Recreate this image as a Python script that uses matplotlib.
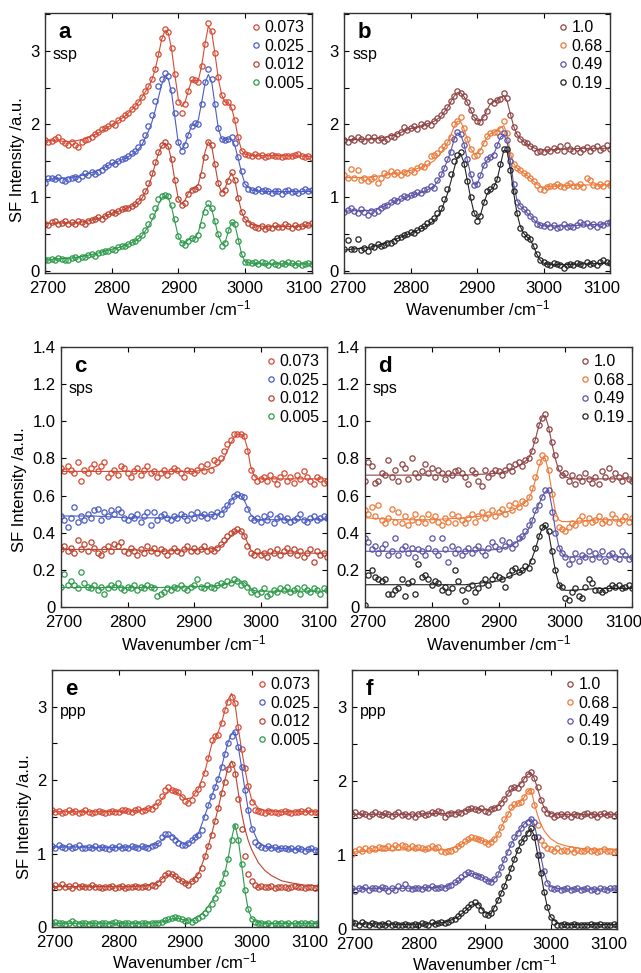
import numpy as np
import matplotlib
matplotlib.use("Agg")
import matplotlib.pyplot as plt
from matplotlib.ticker import MultipleLocator
from matplotlib.transforms import ScaledTranslation

plt.rcParams["font.family"] = ["Liberation Sans", "DejaVu Sans"]
plt.rcParams["mathtext.fontset"] = "custom"
plt.rcParams["mathtext.rm"] = "Liberation Sans"
plt.rcParams["mathtext.it"] = "Liberation Sans:italic"

# measured points: 2700 ... 3100 cm-1, 5 cm-1 steps (81 points per trace)
wn = np.arange(2700, 3101, 5)

# x knots of the fitted curves
KX_SSP = [2700, 2720, 2740, 2760, 2780, 2800, 2820, 2835, 2845, 2855, 2860, 2865, 2870, 2875,
          2880, 2885, 2890, 2895, 2900, 2905, 2910, 2915, 2920, 2925, 2930, 2935, 2940, 2945,
          2950, 2955, 2960, 2965, 2970, 2975, 2980, 2985, 2990, 2995, 3000, 3010, 3030, 3060, 3100]
KX_SPS = [2700, 2750, 2800, 2850, 2900, 2920, 2935, 2945, 2950, 2955, 2960, 2965, 2970, 2975,
          2980, 2985, 2990, 2995, 3000, 3010, 3050, 3100]
KX_PPP = [2700, 2740, 2780, 2820, 2840, 2860, 2870, 2880, 2890, 2900, 2910, 2920, 2930, 2940,
          2945, 2950, 2955, 2960, 2965, 2970, 2975, 2980, 2985, 2990, 2995, 3000, 3010, 3020,
          3030, 3045, 3060, 3080, 3100]

LEFT_LABELS = ["0.073", "0.025", "0.012", "0.005"]
RIGHT_LABELS = ["1.0", "0.68", "0.49", "0.19"]
LEFT_COLORS = ["#d64a33", "#4b5cc4", "#c0432f", "#2e9a4c"]
RIGHT_COLORS = ["#8e4446", "#ec7a3a", "#5b54a6", "#222222"]

# ---- panel a (ssp, left) ----
A_073 = [1.78, 1.76, 1.77, 1.80, 1.82, 1.77, 1.74, 1.72, 1.76, 1.71,
         1.69, 1.75, 1.79, 1.80, 1.83, 1.86, 1.90, 1.93, 1.95, 1.98,
         2.01, 1.99, 2.06, 2.08, 2.12, 2.15, 2.21, 2.25, 2.31, 2.37,
         2.45, 2.52, 2.62, 2.76, 2.96, 3.18, 3.30, 3.26, 3.04, 2.68,
         2.30, 2.15, 2.27, 2.45, 2.62, 2.60, 2.57, 2.80, 3.10, 3.38,
         3.28, 2.98, 2.64, 2.40, 2.30, 2.31, 2.24, 2.06, 1.82, 1.64,
         1.59, 1.58, 1.57, 1.59, 1.56, 1.58, 1.55, 1.57, 1.58, 1.56,
         1.57, 1.55, 1.56, 1.57, 1.56, 1.58, 1.59, 1.57, 1.55, 1.56,
         1.54]
A_025 = [1.19, 1.26, 1.27, 1.25, 1.28, 1.24, 1.22, 1.25, 1.27, 1.28,
         1.25, 1.29, 1.33, 1.31, 1.34, 1.32, 1.35, 1.38, 1.41, 1.44,
         1.49, 1.46, 1.50, 1.52, 1.54, 1.57, 1.60, 1.64, 1.69, 1.75,
         1.85, 1.97, 2.13, 2.32, 2.52, 2.62, 2.70, 2.66, 2.47, 2.15,
         1.75, 1.63, 1.72, 1.85, 1.98, 2.02, 2.00, 2.28, 2.58, 2.76,
         2.62, 2.28, 1.95, 1.80, 1.78, 1.80, 1.82, 1.74, 1.55, 1.36,
         1.18, 1.12, 1.10, 1.09, 1.11, 1.08, 1.10, 1.09, 1.06, 1.09,
         1.08, 1.05, 1.08, 1.10, 1.07, 1.08, 1.06, 1.09, 1.11, 1.09,
         1.10]
A_012 = [0.64, 0.62, 0.66, 0.68, 0.63, 0.65, 0.67, 0.63, 0.66, 0.64,
         0.68, 0.66, 0.64, 0.67, 0.69, 0.71, 0.73, 0.70, 0.74, 0.77,
         0.80, 0.78, 0.82, 0.84, 0.86, 0.85, 0.88, 0.91, 0.95, 1.00,
         1.08, 1.20, 1.33, 1.48, 1.62, 1.72, 1.75, 1.70, 1.52, 1.24,
         0.98, 0.90, 0.92, 1.04, 1.10, 1.12, 1.14, 1.30, 1.55, 1.76,
         1.72, 1.46, 1.20, 1.06, 1.10, 1.22, 1.34, 1.24, 0.99, 0.80,
         0.71, 0.65, 0.62, 0.60, 0.58, 0.61, 0.57, 0.59, 0.58, 0.62,
         0.59, 0.60, 0.63, 0.61, 0.58, 0.62, 0.60, 0.61, 0.64, 0.62,
         0.65]
A_005 = [0.14, 0.15, 0.16, 0.15, 0.17, 0.16, 0.14, 0.15, 0.17, 0.18,
         0.16, 0.19, 0.18, 0.21, 0.22, 0.20, 0.24, 0.25, 0.27, 0.26,
         0.30, 0.28, 0.32, 0.34, 0.33, 0.36, 0.39, 0.40, 0.44, 0.48,
         0.55, 0.63, 0.74, 0.85, 0.98, 1.02, 1.03, 1.02, 0.90, 0.70,
         0.47, 0.37, 0.35, 0.40, 0.44, 0.43, 0.48, 0.62, 0.80, 0.92,
         0.86, 0.68, 0.50, 0.34, 0.38, 0.55, 0.66, 0.63, 0.40, 0.22,
         0.12, 0.11, 0.10, 0.11, 0.09, 0.12, 0.10, 0.08, 0.11, 0.09,
         0.08, 0.10, 0.09, 0.11, 0.10, 0.08, 0.10, 0.07, 0.09, 0.10,
         0.09]
A_073_FIT = [1.78, 1.77, 1.76, 1.80, 1.88, 1.99, 2.11, 2.24, 2.36, 2.51, 2.60, 2.74, 2.94, 3.16,
             3.28, 3.24, 3.02, 2.66, 2.34, 2.24, 2.30, 2.46, 2.60, 2.60, 2.60, 2.80, 3.10, 3.34,
             3.26, 2.96, 2.62, 2.40, 2.30, 2.29, 2.22, 2.04, 1.80, 1.64, 1.59, 1.57, 1.57, 1.57, 1.56]
A_025_FIT = [1.24, 1.26, 1.27, 1.31, 1.37, 1.46, 1.53, 1.61, 1.71, 1.90, 2.02, 2.18, 2.36, 2.54,
             2.66, 2.62, 2.42, 2.08, 1.74, 1.65, 1.73, 1.86, 1.98, 2.00, 2.06, 2.30, 2.56, 2.68,
             2.58, 2.26, 1.94, 1.80, 1.78, 1.80, 1.79, 1.70, 1.52, 1.33, 1.18, 1.10, 1.08, 1.08, 1.08]
A_012_FIT = [0.64, 0.65, 0.65, 0.67, 0.71, 0.78, 0.84, 0.90, 0.98, 1.15, 1.28, 1.44, 1.60, 1.70,
             1.74, 1.69, 1.50, 1.22, 0.98, 0.91, 0.96, 1.06, 1.11, 1.13, 1.18, 1.36, 1.62, 1.76,
             1.70, 1.44, 1.18, 1.07, 1.12, 1.25, 1.33, 1.22, 0.98, 0.80, 0.70, 0.63, 0.60, 0.60, 0.61]
A_005_FIT = [0.14, 0.16, 0.17, 0.20, 0.24, 0.29, 0.34, 0.40, 0.47, 0.60, 0.68, 0.78, 0.90, 0.99,
             1.02, 0.99, 0.86, 0.66, 0.46, 0.38, 0.38, 0.42, 0.44, 0.45, 0.52, 0.70, 0.86, 0.90,
             0.84, 0.66, 0.48, 0.37, 0.38, 0.54, 0.66, 0.62, 0.42, 0.22, 0.12, 0.10, 0.09, 0.09, 0.09]

# ---- panel b (ssp, right) ----
B_10 = [1.79, 1.76, 1.81, 1.78, 1.82, 1.80, 1.77, 1.82, 1.79, 1.83,
        1.78, 1.81, 1.77, 1.80, 1.84, 1.82, 1.86, 1.90, 1.96, 1.92,
        1.95, 1.98, 1.93, 2.00, 1.97, 2.02, 1.99, 2.04, 2.08, 2.12,
        2.18, 2.24, 2.32, 2.38, 2.45, 2.43, 2.38, 2.31, 2.20, 2.10,
        2.05, 2.03, 2.10, 2.18, 2.32, 2.29, 2.33, 2.34, 2.42, 2.36,
        2.12, 1.96, 1.86, 1.80, 1.76, 1.74, 1.70, 1.68, 1.62, 1.64,
        1.62, 1.66, 1.64, 1.68, 1.65, 1.70, 1.63, 1.72, 1.66, 1.64,
        1.68, 1.62, 1.66, 1.69, 1.64, 1.67, 1.70, 1.65, 1.68, 1.71,
        1.66]
B_068 = [1.30, 1.27, 1.39, 1.26, 1.38, 1.24, 1.27, 1.23, 1.25, 1.28,
         1.20, 1.27, 1.33, 1.30, 1.36, 1.32, 1.34, 1.30, 1.35, 1.33,
         1.37, 1.35, 1.40, 1.43, 1.41, 1.47, 1.56, 1.58, 1.60, 1.66,
         1.70, 1.76, 1.82, 2.00, 2.05, 2.10, 1.95, 1.80, 1.66, 1.57,
         1.58, 1.64, 1.74, 1.84, 1.88, 1.90, 1.90, 1.94, 2.04, 1.88,
         1.58, 1.45, 1.40, 1.37, 1.33, 1.30, 1.26, 1.22, 1.17, 1.11,
         1.10, 1.14, 1.16, 1.15, 1.18, 1.16, 1.14, 1.17, 1.19, 1.15,
         1.16, 1.18, 1.14, 1.26, 1.24, 1.17, 1.15, 1.18, 1.16, 1.19,
         1.17]
B_049 = [0.80, 0.83, 0.86, 0.82, 0.79, 0.84, 0.80, 0.76, 0.81, 0.79,
         0.82, 0.85, 0.88, 0.90, 0.93, 0.97, 0.95, 0.99, 1.02, 1.00,
         1.03, 1.05, 1.07, 1.06, 1.10, 1.12, 1.15, 1.13, 1.24, 1.32,
         1.40, 1.52, 1.62, 1.80, 1.90, 1.86, 1.72, 1.52, 1.32, 1.17,
         1.18, 1.30, 1.44, 1.52, 1.55, 1.58, 1.72, 1.84, 1.88, 1.78,
         1.50, 1.18, 0.94, 0.88, 0.84, 0.80, 0.75, 0.70, 0.64, 0.62,
         0.61, 0.63, 0.60, 0.62, 0.58, 0.60, 0.63, 0.59, 0.61, 0.60,
         0.62, 0.66, 0.64, 0.65, 0.61, 0.63, 0.60, 0.64, 0.62, 0.65,
         0.66]
B_019 = [0.29, 0.42, 0.30, 0.29, 0.43, 0.28, 0.31, 0.27, 0.34, 0.32,
         0.36, 0.33, 0.35, 0.38, 0.37, 0.41, 0.44, 0.46, 0.49, 0.50,
         0.52, 0.51, 0.56, 0.58, 0.61, 0.65, 0.68, 0.72, 0.78, 0.86,
         0.98, 1.12, 1.32, 1.50, 1.58, 1.62, 1.46, 1.22, 1.00, 0.78,
         0.68, 0.74, 0.94, 1.08, 1.12, 1.15, 1.25, 1.45, 1.66, 1.66,
         1.38, 1.08, 0.78, 0.58, 0.50, 0.46, 0.43, 0.33, 0.22, 0.15,
         0.11, 0.09, 0.08, 0.10, 0.09, 0.07, 0.03, 0.08, 0.09, 0.08,
         0.10, 0.09, 0.08, 0.11, 0.09, 0.10, 0.08, 0.12, 0.14, 0.11,
         0.10]
B_10_FIT = [1.79, 1.79, 1.80, 1.82, 1.87, 1.94, 1.99, 2.04, 2.10, 2.22, 2.30, 2.38, 2.43, 2.43,
            2.38, 2.30, 2.20, 2.10, 2.05, 2.05, 2.10, 2.20, 2.28, 2.31, 2.33, 2.36, 2.39, 2.32,
            2.14, 1.97, 1.86, 1.80, 1.76, 1.73, 1.70, 1.68, 1.66, 1.65, 1.65, 1.65, 1.66, 1.67, 1.67]
B_068_FIT = [1.27, 1.27, 1.28, 1.30, 1.33, 1.37, 1.42, 1.50, 1.60, 1.74, 1.84, 1.96, 2.04, 2.04,
             1.94, 1.80, 1.67, 1.60, 1.60, 1.65, 1.74, 1.82, 1.87, 1.89, 1.91, 1.95, 1.98, 1.86,
             1.60, 1.46, 1.40, 1.36, 1.33, 1.30, 1.26, 1.22, 1.18, 1.15, 1.14, 1.15, 1.16, 1.17, 1.17]
B_049_FIT = [0.81, 0.82, 0.82, 0.88, 0.96, 1.02, 1.08, 1.15, 1.28, 1.50, 1.62, 1.78, 1.88, 1.86,
             1.74, 1.52, 1.32, 1.18, 1.18, 1.30, 1.43, 1.51, 1.55, 1.59, 1.70, 1.82, 1.86, 1.76,
             1.50, 1.18, 0.96, 0.88, 0.84, 0.79, 0.75, 0.70, 0.65, 0.62, 0.61, 0.61, 0.61, 0.62, 0.64]
B_019_FIT = [0.28, 0.30, 0.32, 0.37, 0.44, 0.51, 0.59, 0.68, 0.80, 1.04, 1.20, 1.38, 1.54, 1.60,
             1.48, 1.24, 1.00, 0.80, 0.70, 0.76, 0.92, 1.05, 1.10, 1.14, 1.24, 1.44, 1.64, 1.64,
             1.38, 1.06, 0.78, 0.60, 0.51, 0.46, 0.42, 0.33, 0.22, 0.14, 0.10, 0.08, 0.08, 0.09, 0.10]

# ---- panel c (sps, left) ----
C_073 = [0.75, 0.73, 0.76, 0.74, 0.72, 0.78, 0.68, 0.74, 0.72, 0.75,
         0.77, 0.73, 0.76, 0.78, 0.70, 0.72, 0.74, 0.71, 0.76, 0.75,
         0.72, 0.70, 0.73, 0.75, 0.71, 0.74, 0.76, 0.72, 0.73, 0.70,
         0.72, 0.74, 0.71, 0.73, 0.75, 0.74, 0.72, 0.70, 0.74, 0.73,
         0.72, 0.74, 0.76, 0.73, 0.77, 0.74, 0.79, 0.78, 0.80, 0.84,
         0.88, 0.90, 0.93, 0.93, 0.93, 0.92, 0.84, 0.74, 0.70, 0.68,
         0.69, 0.70, 0.68, 0.71, 0.69, 0.66, 0.70, 0.72, 0.68, 0.70,
         0.67, 0.71, 0.69, 0.73, 0.70, 0.68, 0.66, 0.70, 0.69, 0.67,
         0.68]
C_025 = [0.49, 0.47, 0.43, 0.48, 0.54, 0.46, 0.49, 0.47, 0.50, 0.48,
         0.52, 0.53, 0.47, 0.51, 0.49, 0.52, 0.50, 0.53, 0.51, 0.48,
         0.47, 0.49, 0.48, 0.50, 0.46, 0.49, 0.51, 0.44, 0.51, 0.47,
         0.49, 0.50, 0.48, 0.47, 0.49, 0.48, 0.50, 0.49, 0.47, 0.50,
         0.48, 0.51, 0.49, 0.50, 0.48, 0.50, 0.49, 0.51, 0.50, 0.53,
         0.55, 0.57, 0.60, 0.61, 0.60, 0.59, 0.53, 0.48, 0.47, 0.48,
         0.46, 0.49, 0.47, 0.50, 0.45, 0.48, 0.49, 0.47, 0.48, 0.46,
         0.47, 0.48, 0.50, 0.47, 0.46, 0.48, 0.49, 0.47, 0.48, 0.49,
         0.48]
C_012 = [0.31, 0.33, 0.30, 0.32, 0.29, 0.36, 0.31, 0.34, 0.30, 0.35,
         0.32, 0.29, 0.28, 0.31, 0.33, 0.30, 0.34, 0.33, 0.35, 0.30,
         0.29, 0.32, 0.30, 0.28, 0.31, 0.29, 0.33, 0.30, 0.32, 0.29,
         0.31, 0.30, 0.28, 0.30, 0.32, 0.30, 0.29, 0.31, 0.33, 0.30,
         0.32, 0.30, 0.31, 0.33, 0.30, 0.31, 0.30, 0.32, 0.34, 0.36,
         0.38, 0.40, 0.41, 0.42, 0.41, 0.38, 0.33, 0.29, 0.28, 0.30,
         0.28, 0.29, 0.27, 0.30, 0.29, 0.31, 0.28, 0.30, 0.32, 0.29,
         0.31, 0.28, 0.30, 0.27, 0.29, 0.31, 0.24, 0.30, 0.28, 0.29,
         0.27]
C_005 = [0.11, 0.18, 0.12, 0.14, 0.12, 0.10, 0.19, 0.13, 0.11, 0.10,
         0.12, 0.09, 0.11, 0.07, 0.10, 0.12, 0.11, 0.13, 0.10, 0.09,
         0.11, 0.10, 0.12, 0.09, 0.11, 0.10, 0.12, 0.11, 0.10, 0.06,
         0.07, 0.08, 0.10, 0.09, 0.11, 0.10, 0.12, 0.10, 0.09, 0.11,
         0.12, 0.15, 0.11, 0.10, 0.12, 0.11, 0.10, 0.12, 0.13, 0.12,
         0.14, 0.13, 0.15, 0.14, 0.12, 0.13, 0.11, 0.08, 0.09, 0.07,
         0.08, 0.10, 0.06, 0.07, 0.09, 0.08, 0.10, 0.09, 0.11, 0.08,
         0.09, 0.10, 0.07, 0.11, 0.09, 0.08, 0.10, 0.09, 0.07, 0.10,
         0.09]
C_073_FIT = [0.73, 0.73, 0.73, 0.73, 0.73, 0.74, 0.76, 0.80, 0.84, 0.88, 0.91, 0.93, 0.93, 0.92,
             0.86, 0.76, 0.71, 0.69, 0.69, 0.69, 0.69, 0.69]
C_025_FIT = [0.49, 0.49, 0.48, 0.48, 0.49, 0.495, 0.50, 0.52, 0.54, 0.57, 0.59, 0.60, 0.60, 0.58,
             0.54, 0.50, 0.48, 0.47, 0.47, 0.47, 0.47, 0.47]
C_012_FIT = [0.31, 0.31, 0.31, 0.30, 0.31, 0.31, 0.32, 0.34, 0.36, 0.38, 0.40, 0.41, 0.41, 0.39,
             0.35, 0.31, 0.29, 0.29, 0.29, 0.29, 0.29, 0.29]
C_005_FIT = [0.105, 0.105, 0.105, 0.105, 0.11, 0.11, 0.115, 0.12, 0.125, 0.13, 0.135, 0.14, 0.14,
             0.135, 0.12, 0.10, 0.09, 0.085, 0.085, 0.085, 0.085, 0.085]

# ---- panel d (sps, right) ----
D_10 = [0.68, 0.78, 0.76, 0.67, 0.68, 0.72, 0.71, 0.79, 0.70, 0.74,
        0.68, 0.77, 0.75, 0.69, 0.80, 0.72, 0.70, 0.73, 0.77, 0.72,
        0.75, 0.70, 0.74, 0.72, 0.69, 0.72, 0.71, 0.73, 0.74, 0.72,
        0.70, 0.66, 0.74, 0.72, 0.68, 0.65, 0.74, 0.70, 0.72, 0.74,
        0.73, 0.71, 0.74, 0.76, 0.73, 0.77, 0.78, 0.76, 0.79, 0.80,
        0.84, 0.90, 0.98, 1.02, 1.04, 0.96, 0.89, 0.82, 0.75, 0.71,
        0.72, 0.68, 0.71, 0.66, 0.70, 0.68, 0.72, 0.69, 0.67, 0.70,
        0.66, 0.73, 0.70, 0.75, 0.69, 0.72, 0.70, 0.68, 0.71, 0.69,
        0.68]
D_068 = [0.52, 0.50, 0.54, 0.49, 0.55, 0.47, 0.45, 0.48, 0.53, 0.46,
         0.51, 0.45, 0.49, 0.44, 0.47, 0.50, 0.46, 0.48, 0.45, 0.50,
         0.47, 0.49, 0.46, 0.44, 0.48, 0.46, 0.50, 0.45, 0.49, 0.47,
         0.45, 0.48, 0.50, 0.46, 0.49, 0.51, 0.48, 0.50, 0.52, 0.49,
         0.51, 0.53, 0.50, 0.55, 0.52, 0.56, 0.54, 0.57, 0.56, 0.59,
         0.64, 0.70, 0.78, 0.82, 0.80, 0.74, 0.61, 0.48, 0.43, 0.42,
         0.41, 0.43, 0.45, 0.44, 0.47, 0.49, 0.45, 0.48, 0.46, 0.47,
         0.49, 0.45, 0.47, 0.46, 0.50, 0.48, 0.45, 0.47, 0.49, 0.46,
         0.48]
D_049 = [0.37, 0.35, 0.31, 0.33, 0.29, 0.32, 0.34, 0.28, 0.30, 0.37,
         0.28, 0.31, 0.33, 0.29, 0.32, 0.27, 0.31, 0.30, 0.28, 0.32,
         0.37, 0.30, 0.28, 0.37, 0.31, 0.24, 0.33, 0.29, 0.31, 0.28,
         0.30, 0.32, 0.29, 0.31, 0.33, 0.30, 0.28, 0.32, 0.35, 0.33,
         0.31, 0.36, 0.33, 0.35, 0.32, 0.34, 0.37, 0.38, 0.41, 0.44,
         0.47, 0.52, 0.55, 0.59, 0.63, 0.63, 0.51, 0.40, 0.32, 0.29,
         0.27, 0.23, 0.26, 0.29, 0.25, 0.28, 0.27, 0.30, 0.26, 0.29,
         0.27, 0.30, 0.25, 0.28, 0.29, 0.27, 0.26, 0.30, 0.28, 0.26,
         0.27]
D_019 = [0.01, 0.17, 0.20, 0.16, 0.15, 0.14, 0.15, 0.07, 0.07, 0.09,
         0.10, 0.15, 0.06, 0.13, 0.14, 0.07, 0.23, 0.16, 0.17, 0.15,
         0.12, 0.14, 0.13, 0.09, 0.11, 0.08, 0.10, 0.20, 0.14, 0.09,
         0.03, 0.10, 0.12, 0.08, 0.10, 0.13, 0.15, 0.12, 0.15, 0.17,
         0.16, 0.15, 0.11, 0.17, 0.20, 0.21, 0.19, 0.20, 0.22, 0.21,
         0.25, 0.32, 0.38, 0.43, 0.44, 0.41, 0.30, 0.20, 0.12, 0.11,
         0.05, 0.04, 0.08, 0.10, 0.06, 0.05, 0.11, 0.15, 0.13, 0.09,
         0.09, 0.08, 0.09, 0.10, 0.12, 0.11, 0.12, 0.10, 0.11, 0.12,
         0.10]
D_10_FIT = [0.71, 0.71, 0.71, 0.71, 0.72, 0.74, 0.77, 0.80, 0.84, 0.90, 0.97, 1.02, 1.03, 0.97,
            0.88, 0.80, 0.74, 0.71, 0.70, 0.69, 0.69, 0.69]
D_068_FIT = [0.48, 0.47, 0.47, 0.48, 0.50, 0.52, 0.55, 0.58, 0.62, 0.68, 0.75, 0.80, 0.80, 0.73,
             0.62, 0.52, 0.47, 0.46, 0.46, 0.46, 0.47, 0.47]
D_049_FIT = [0.30, 0.30, 0.30, 0.30, 0.31, 0.33, 0.37, 0.42, 0.46, 0.51, 0.55, 0.59, 0.62, 0.63,
             0.54, 0.42, 0.33, 0.29, 0.27, 0.27, 0.27, 0.27]
D_019_FIT = [0.12, 0.12, 0.12, 0.12, 0.14, 0.17, 0.19, 0.22, 0.26, 0.31, 0.37, 0.42, 0.44, 0.40,
             0.30, 0.20, 0.13, 0.10, 0.09, 0.09, 0.10, 0.10]

# ---- panel e (ppp, left) ----
E_073 = [1.60, 1.56, 1.58, 1.55, 1.57, 1.59, 1.56, 1.58, 1.55, 1.57,
         1.60, 1.57, 1.55, 1.56, 1.58, 1.57, 1.55, 1.56, 1.58, 1.56,
         1.57, 1.59, 1.60, 1.58, 1.57, 1.59, 1.61, 1.58, 1.60, 1.62,
         1.61, 1.65, 1.70, 1.78, 1.86, 1.90, 1.87, 1.85, 1.84, 1.77,
         1.72, 1.69, 1.73, 1.82, 1.88, 1.95, 2.10, 2.30, 2.55, 2.60,
         2.61, 2.78, 2.96, 3.06, 3.13, 3.05, 2.72, 2.42, 2.16, 1.92,
         1.70, 1.60, 1.58, 1.57, 1.55, 1.58, 1.56, 1.57, 1.55, 1.56,
         1.58, 1.56, 1.55, 1.57, 1.56, 1.58, 1.57, 1.59, 1.56, 1.57,
         1.55]
E_025 = [1.10, 1.08, 1.11, 1.09, 1.07, 1.10, 1.08, 1.09, 1.11, 1.08,
         1.07, 1.09, 1.08, 1.10, 1.07, 1.09, 1.08, 1.06, 1.09, 1.08,
         1.10, 1.07, 1.09, 1.08, 1.10, 1.09, 1.07, 1.10, 1.09, 1.08,
         1.10, 1.12, 1.15, 1.22, 1.27, 1.26, 1.22, 1.19, 1.15, 1.12,
         1.11, 1.14, 1.18, 1.22, 1.25, 1.32, 1.50, 1.66, 1.78, 1.90,
         2.02, 2.18, 2.36, 2.50, 2.60, 2.66, 2.45, 2.18, 1.86, 1.60,
         1.34, 1.16, 1.11, 1.09, 1.08, 1.10, 1.07, 1.09, 1.06, 1.08,
         1.07, 1.06, 1.08, 1.05, 1.07, 1.06, 1.04, 1.06, 1.07, 1.05,
         1.04]
E_012 = [0.55, 0.57, 0.55, 0.58, 0.54, 0.56, 0.53, 0.57, 0.55, 0.56,
         0.54, 0.55, 0.57, 0.54, 0.55, 0.53, 0.55, 0.54, 0.56, 0.53,
         0.54, 0.56, 0.53, 0.55, 0.54, 0.56, 0.55, 0.54, 0.56, 0.55,
         0.57, 0.56, 0.60, 0.66, 0.71, 0.73, 0.72, 0.70, 0.66, 0.62,
         0.60, 0.57, 0.62, 0.66, 0.71, 0.80, 0.97, 1.10, 1.25, 1.44,
         1.62, 1.83, 1.98, 2.15, 2.22, 2.08, 1.75, 1.33, 0.97, 0.72,
         0.62, 0.57, 0.55, 0.56, 0.54, 0.55, 0.56, 0.53, 0.55, 0.54,
         0.55, 0.53, 0.54, 0.56, 0.54, 0.55, 0.53, 0.55, 0.54, 0.53,
         0.54]
E_005 = [0.05, 0.07, 0.06, 0.05, 0.04, 0.06, 0.08, 0.05, 0.04, 0.06,
         0.05, 0.04, 0.06, 0.05, 0.04, 0.05, 0.06, 0.04, 0.05, 0.07,
         0.05, 0.04, 0.05, 0.06, 0.04, 0.05, 0.04, 0.06, 0.05, 0.04,
         0.05, 0.06, 0.05, 0.07, 0.09, 0.11, 0.12, 0.13, 0.12, 0.11,
         0.08, 0.09, 0.07, 0.10, 0.12, 0.15, 0.19, 0.25, 0.31, 0.40,
         0.50, 0.60, 0.74, 0.92, 1.18, 1.38, 1.18, 0.86, 0.50, 0.24,
         0.11, 0.07, 0.05, 0.06, 0.04, 0.05, 0.03, 0.05, 0.04, 0.06,
         0.04, 0.05, 0.03, 0.05, 0.04, 0.06, 0.05, 0.04, 0.05, 0.04,
         0.05]
E_073_FIT = [1.57, 1.57, 1.57, 1.58, 1.60, 1.68, 1.80, 1.87, 1.82, 1.74, 1.76, 1.88, 2.12, 2.48,
             2.58, 2.66, 2.78, 2.95, 3.10, 3.18, 3.05, 2.72, 2.42, 2.16, 1.92, 1.74, 1.62, 1.59,
             1.58, 1.57, 1.57, 1.57, 1.57]
E_025_FIT = [1.09, 1.09, 1.08, 1.09, 1.09, 1.14, 1.22, 1.25, 1.18, 1.13, 1.17, 1.27, 1.52, 1.78,
             1.90, 2.02, 2.18, 2.36, 2.52, 2.63, 2.66, 2.46, 2.18, 1.88, 1.60, 1.36, 1.16, 1.10,
             1.08, 1.07, 1.06, 1.06, 1.05]
E_012_FIT = [0.55, 0.55, 0.55, 0.55, 0.56, 0.61, 0.69, 0.72, 0.66, 0.60, 0.62, 0.72, 0.96, 1.26,
             1.44, 1.62, 1.82, 2.00, 2.18, 2.26, 2.14, 1.84, 1.56, 1.34, 1.18, 1.06, 0.88, 0.77,
             0.70, 0.63, 0.60, 0.57, 0.56]
E_005_FIT = [0.05, 0.05, 0.05, 0.05, 0.05, 0.06, 0.08, 0.11, 0.12, 0.09, 0.10, 0.14, 0.22, 0.35,
             0.42, 0.50, 0.60, 0.74, 0.94, 1.20, 1.40, 1.20, 0.86, 0.50, 0.24, 0.12, 0.06, 0.05,
             0.05, 0.05, 0.05, 0.05, 0.05]

# ---- panel f (ppp, right) ----
F_10 = [1.55, 1.58, 1.54, 1.57, 1.55, 1.53, 1.56, 1.58, 1.55, 1.54,
        1.57, 1.55, 1.53, 1.56, 1.58, 1.54, 1.56, 1.53, 1.55, 1.52,
        1.55, 1.57, 1.54, 1.56, 1.58, 1.57, 1.59, 1.58, 1.52, 1.55,
        1.57, 1.56, 1.58, 1.57, 1.60, 1.62, 1.64, 1.62, 1.61, 1.63,
        1.60, 1.58, 1.62, 1.63, 1.65, 1.70, 1.76, 1.84, 1.90, 1.92,
        1.90, 1.96, 2.03, 2.10, 2.12, 2.04, 1.92, 1.74, 1.62, 1.57,
        1.55, 1.52, 1.54, 1.56, 1.53, 1.55, 1.52, 1.56, 1.54, 1.53,
        1.55, 1.57, 1.54, 1.56, 1.52, 1.55, 1.57, 1.54, 1.56, 1.53,
        1.55]
F_068 = [1.02, 1.05, 1.08, 1.06, 1.09, 1.07, 1.10, 1.08, 1.11, 1.09,
         1.10, 1.12, 1.09, 1.13, 1.11, 1.14, 1.12, 1.10, 1.12, 1.09,
         1.11, 1.10, 1.08, 1.10, 1.12, 1.09, 1.11, 1.05, 1.04, 1.06,
         1.05, 1.08, 1.12, 1.15, 1.19, 1.22, 1.24, 1.23, 1.22, 1.20,
         1.18, 1.15, 1.17, 1.21, 1.28, 1.38, 1.48, 1.56, 1.65, 1.69,
         1.70, 1.72, 1.78, 1.87, 1.86, 1.68, 1.40, 1.20, 1.13, 1.10,
         1.08, 1.06, 1.09, 1.05, 1.07, 1.06, 1.08, 1.04, 1.07, 1.05,
         1.06, 1.08, 1.05, 1.07, 1.04, 1.06, 1.08, 1.05, 1.06, 1.04,
         1.05]
F_049 = [0.55, 0.52, 0.56, 0.54, 0.57, 0.53, 0.55, 0.56, 0.54, 0.57,
         0.55, 0.52, 0.56, 0.53, 0.58, 0.55, 0.61, 0.56, 0.54, 0.55,
         0.56, 0.54, 0.57, 0.55, 0.58, 0.56, 0.55, 0.57, 0.56, 0.58,
         0.60, 0.63, 0.66, 0.70, 0.74, 0.77, 0.76, 0.73, 0.72, 0.70,
         0.68, 0.65, 0.64, 0.68, 0.74, 0.84, 0.94, 1.04, 1.15, 1.24,
         1.30, 1.36, 1.42, 1.45, 1.49, 1.44, 1.24, 1.00, 0.78, 0.62,
         0.56, 0.54, 0.55, 0.53, 0.54, 0.55, 0.53, 0.54, 0.55, 0.53,
         0.54, 0.55, 0.53, 0.54, 0.52, 0.55, 0.54, 0.53, 0.55, 0.56,
         0.55]
F_019 = [0.10, 0.08, 0.06, 0.09, 0.07, 0.06, 0.08, 0.07, 0.06, 0.07,
         0.06, 0.08, 0.05, 0.07, 0.06, 0.05, 0.07, 0.06, 0.05, 0.07,
         0.06, 0.08, 0.07, 0.06, 0.09, 0.07, 0.08, 0.09, 0.08, 0.10,
         0.12, 0.14, 0.18, 0.22, 0.26, 0.30, 0.34, 0.36, 0.33, 0.26,
         0.20, 0.19, 0.22, 0.29, 0.39, 0.48, 0.58, 0.70, 0.83, 0.95,
         1.07, 1.17, 1.23, 1.30, 1.37, 1.24, 1.00, 0.76, 0.50, 0.30,
         0.16, 0.09, 0.06, 0.05, 0.07, 0.06, 0.05, 0.07, 0.06, 0.05,
         0.06, 0.05, 0.07, 0.06, 0.05, 0.07, 0.06, 0.05, 0.06, 0.07,
         0.06]
F_10_FIT = [1.55, 1.55, 1.55, 1.56, 1.56, 1.58, 1.60, 1.62, 1.62, 1.61, 1.62, 1.66, 1.76, 1.88,
            1.91, 1.93, 1.97, 2.03, 2.09, 2.11, 2.04, 1.90, 1.75, 1.64, 1.58, 1.56, 1.55, 1.55,
            1.55, 1.55, 1.55, 1.55, 1.55]
F_068_FIT = [1.04, 1.06, 1.07, 1.07, 1.07, 1.12, 1.17, 1.21, 1.22, 1.18, 1.18, 1.27, 1.46, 1.62,
             1.67, 1.70, 1.73, 1.78, 1.86, 1.90, 1.70, 1.54, 1.42, 1.33, 1.27, 1.22, 1.16, 1.13,
             1.11, 1.09, 1.08, 1.08, 1.08]
F_049_FIT = [0.55, 0.55, 0.55, 0.56, 0.57, 0.64, 0.70, 0.75, 0.73, 0.68, 0.64, 0.72, 0.94, 1.14,
             1.22, 1.30, 1.36, 1.42, 1.46, 1.49, 1.42, 1.22, 0.98, 0.77, 0.63, 0.57, 0.55, 0.54,
             0.54, 0.54, 0.54, 0.54, 0.54]
F_019_FIT = [0.07, 0.07, 0.06, 0.07, 0.09, 0.16, 0.24, 0.32, 0.35, 0.22, 0.21, 0.38, 0.58, 0.82,
             0.94, 1.06, 1.16, 1.23, 1.30, 1.36, 1.26, 1.02, 0.76, 0.50, 0.29, 0.16, 0.08, 0.06,
             0.06, 0.06, 0.06, 0.06, 0.06]

# panel frames in pixels (left, top, right, bottom) on the 641 x 973 canvas
W, H = 641, 973
panels = [
    ("a", "ssp", (45, 13, 311.7, 272.7), KX_SSP, [A_073, A_025, A_012, A_005],
     [A_073_FIT, A_025_FIT, A_012_FIT, A_005_FIT], LEFT_LABELS, LEFT_COLORS, "big", 0.435),
    ("b", "ssp", (344.3, 13, 610, 272.7), KX_SSP, [B_10, B_068, B_049, B_019],
     [B_10_FIT, B_068_FIT, B_049_FIT, B_019_FIT], RIGHT_LABELS, RIGHT_COLORS, "big", None),
    ("c", "sps", (61, 347, 327, 607), KX_SPS, [C_073, C_025, C_012, C_005],
     [C_073_FIT, C_025_FIT, C_012_FIT, C_005_FIT], LEFT_LABELS, LEFT_COLORS, "small", 0.45),
    ("d", "sps", (365, 347, 632, 607), KX_SPS, [D_10, D_068, D_049, D_019],
     [D_10_FIT, D_068_FIT, D_049_FIT, D_019_FIT], RIGHT_LABELS, RIGHT_COLORS, "small", None),
    ("e", "ppp", (52, 670, 318, 927), KX_PPP, [E_073, E_025, E_012, E_005],
     [E_073_FIT, E_025_FIT, E_012_FIT, E_005_FIT], LEFT_LABELS, LEFT_COLORS, "ppp", 0.43),
    ("f", "ppp", (352, 670, 617, 929), KX_PPP, [F_10, F_068, F_049, F_019],
     [F_10_FIT, F_068_FIT, F_049_FIT, F_019_FIT], RIGHT_LABELS, RIGHT_COLORS, "ppp", None),
]

fig = plt.figure(figsize=(W / 100, H / 100), dpi=100)

for letter, mode, (l, t, r, b), kx, pts, fits, labels, colors, kind, ylab_y in panels:
    ax = fig.add_axes([l / W, 1 - b / H, (r - l) / W, (b - t) / H])
    for y, f, lab, c in zip(pts, fits, labels, colors):
        ax.plot(kx, f, "-", color=c, lw=0.8)
        ax.plot(wn, y, "o", mfc="none", mec=c, ms=3.8, mew=0.9, label=lab)

    ax.set_xlim(2700, 3100)
    ax.set_xticks([2700, 2800, 2900, 3000, 3100])
    if kind == "small":
        ax.set_ylim(0, 1.4)
        ax.set_yticks([0, 0.2, 0.4, 0.6, 0.8, 1.0, 1.2, 1.4])
        ax.set_yticklabels(["0", "0.2", "0.4", "0.6", "0.8", "1.0", "1.2", "1.4"])
    else:
        ax.set_ylim((-0.03, 3.52) if kind == "big" else (0, 3.5))
        ax.set_yticks([0, 1, 2, 3])
        ax.set_yticklabels(["0", "1", "2", "3"])
        ax.yaxis.set_minor_locator(MultipleLocator(0.5))

    ax.tick_params(which="both", direction="in", top=True, right=True,
                   length=3.5, width=0.8, labelsize=12)
    ax.tick_params(axis="x", pad=6)
    ax.tick_params(axis="y", pad=4)
    for sp in ax.spines.values():
        sp.set_linewidth(1.0)
        sp.set_color("#333333")

    # nudge the end labels inwards, as in the original figure
    xl = ax.get_xticklabels()
    xl[0].set_transform(xl[0].get_transform() + ScaledTranslation(0.03, 0, fig.dpi_scale_trans))
    xl[-1].set_transform(xl[-1].get_transform() + ScaledTranslation(-0.08, 0, fig.dpi_scale_trans))

    ax.set_xlabel("Wavenumber /cm$^{-1}$", fontsize=12, labelpad=1 if kind == "ppp" else 2)
    if ylab_y is not None:
        ax.set_ylabel("SF Intensity /a.u.", fontsize=12, labelpad=4, y=ylab_y)

    ax.text(0.05, 0.925, letter, transform=ax.transAxes, fontsize=16,
            fontweight="bold", va="center", ha="left")
    ax.text(0.03, 0.84, mode, transform=ax.transAxes, fontsize=11.5,
            va="center", ha="left")

    ax.legend(loc="upper right", frameon=False, fontsize=11.5, handlelength=0.6,
              handletextpad=0.25, labelspacing=0.22, borderaxespad=0.1, borderpad=0.35,
              numpoints=1)

fig.savefig("out.png", dpi=100)
